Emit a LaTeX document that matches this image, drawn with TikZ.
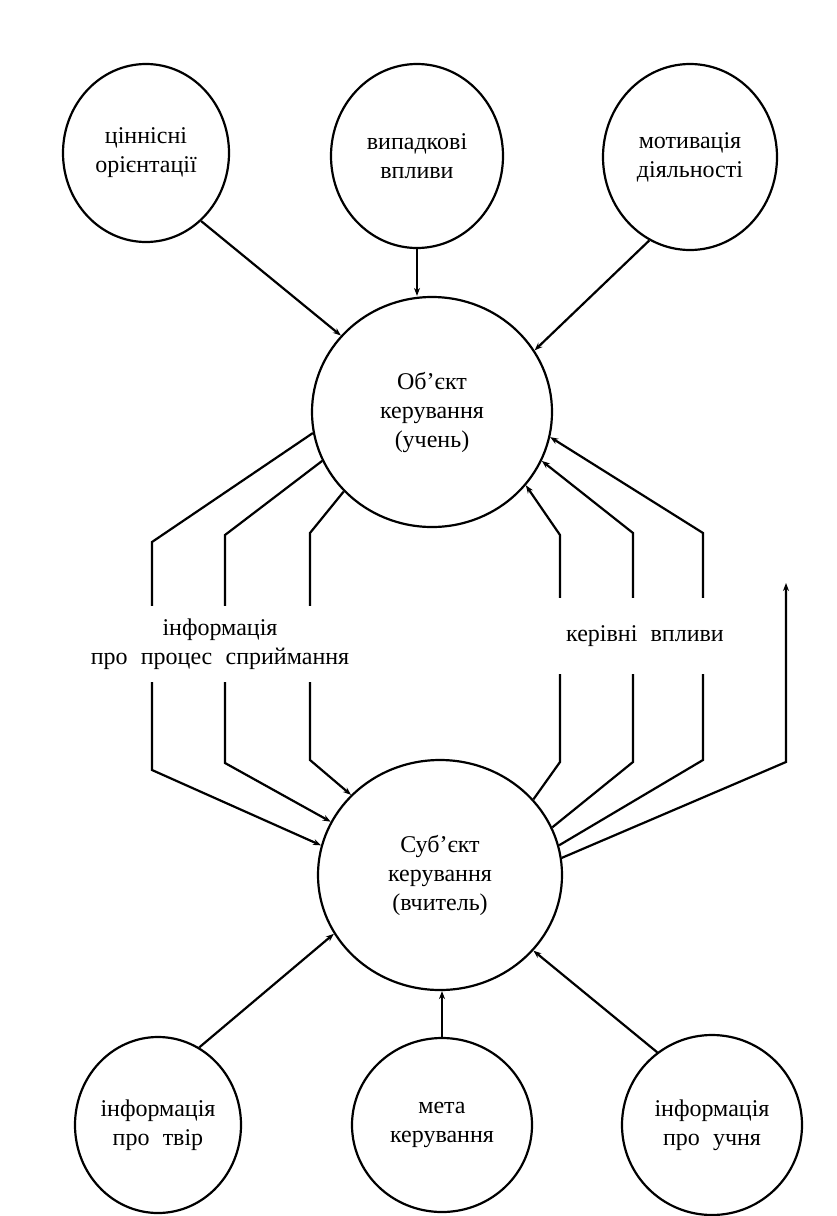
\documentclass[tikz,border=0pt]{standalone}
\usepackage{fontspec}
\setmainfont{Liberation Serif}
\usetikzlibrary{shapes.geometric,arrows.meta}
\newcommand\shyroko{\spaceskip 0.55em plus 0.1em\relax}

\begin{document}
\begin{tikzpicture}[x=0.5pt,y=-0.5pt,line width=1.1pt,
            every node/.style={inner sep=0pt,align=center,
              font=\fontsize{12}{14.5}\selectfont\shyroko},
            krug/.style n args={2}{draw,ellipse,minimum width=#1,minimum height=#2},
            pidpys/.style={fill=white,inner xsep=7pt,minimum height=38pt},
            >={Stealth[length=4pt,width=3pt]}]
            \useasboundingbox[fill=white](0,0)rectangle(836,1216);
            \node[krug={83pt}{89pt}](tl)at(146,153){ціннісні\\орієнтації};
            \node[krug={86pt}{92pt}](tm)at(417,156){випадкові\\впливи};
            \node[krug={87pt}{93pt}](tr)at(690,157){мотивація\\діяльності};
            \node[krug={120pt}{115pt}](obj)at(432,412){Об’єкт\\керування\\(учень)};
            \node[krug={122pt}{115pt}](subj)at(440,875){Суб’єкт\\керування\\(вчитель)};
            \node[krug={83pt}{88pt}](bl)at(158,1125){інформація\\про твір};
            \node[krug={90pt}{87pt}](bm)at(442,1125){мета\\керування};
            \node[krug={90pt}{90pt}](br)at(712,1125){інформація\\про учня};
            \draw[->](tl.309)--(obj.140);
            \draw[->](tm.south)--(tm.south|-obj.north);
            \draw[->](tr.244)--(obj.31);
            \draw[->](obj.190)--(152,542)--(152,770)--(subj.166);
            \draw[->](obj.204)--(225,535)--(225,763)--(subj.154);
            \draw[->](obj.222)--(310,533)--(310,760)--(subj.138);
            \draw[->](subj.39)--(560,762)--(560,535)--(obj.322);
            \draw[->](subj.23)--(633,762)--(633,533)--(obj.336);
            \draw[->](subj.14)--(703,760)--(703,533)--(obj.348);
            \coordinate(vyhid)at(786,583);
            \draw[->](subj.8)--(786,762)--(vyhid);
            \node[pidpys](infoproc)at(220,644){інформація\\про процес сприймання};
            \node[pidpys](kerivni)at(645,636){керівні впливи};
            \draw[->](bl.62)--(subj.209);
            \draw[->](bm.north)--(bm.north|-subj.south);
            \draw[->](br.127)--(subj.321);
          \end{tikzpicture}
\end{document}
